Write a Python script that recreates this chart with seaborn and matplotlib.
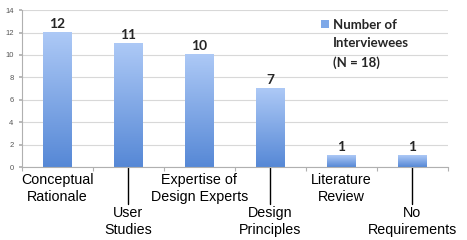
"""
Interview sources bar chart (gradient bars, staggered category labels).
"""

import numpy as np
import pandas as pd
import matplotlib
matplotlib.use("Agg")
import matplotlib.pyplot as plt
import seaborn as sns
from matplotlib.colors import LinearSegmentedColormap
from matplotlib.patches import Rectangle
from matplotlib.legend_handler import HandlerPatch

categories = ["Conceptual\nRationale", "User\nStudies", "Expertise of\nDesign Experts",
              "Design\nPrinciples", "Literature\nReview", "No\nRequirements"]
counts = [12, 11, 10, 7, 1, 1]
series_name = "Number of\nInterviewees\n(N = 18)"
y_ticks = [0, 2, 4, 6, 8, 10, 12, 14]

TOP_COLOR = "#adc9f6"
BOTTOM_COLOR = "#5688d6"


class TopSquareHandler(HandlerPatch):
    # put the legend square next to the first text line
    def create_artists(self, legend, orig_handle, xdescent, ydescent,
                       width, height, fontsize, trans):
        s = 0.6 * fontsize
        r = Rectangle((-xdescent, -ydescent + height - s * 0.45), s, s,
                      facecolor="#7ea8e8", edgecolor="none", transform=trans)
        return [r]


def main():
    sns.set_theme(style="white")
    plt.rcParams["font.family"] = ["Liberation Sans", "DejaVu Sans"]

    df = pd.DataFrame({"category": categories, "count": counts})

    fig = plt.figure(figsize=(4.67, 2.40), dpi=100)
    ax = fig.add_axes([0.047, 0.304, 0.912, 0.654])

    sns.barplot(data=df, x="category", y="count", width=0.4, ax=ax,
                color=BOTTOM_COLOR, zorder=2)

    ax.set_xlim(-0.5, 5.5)
    ax.set_ylim(0, 14)

    # gradient fill inside every bar
    cmap = LinearSegmentedColormap.from_list("bar", [BOTTOM_COLOR, TOP_COLOR])
    grad = np.linspace(0, 1, 256).reshape(-1, 1)
    for p in ax.patches:
        x0, y0 = p.get_x(), p.get_y()
        w, h = p.get_width(), p.get_height()
        p.set_facecolor("none")
        p.set_edgecolor("none")
        ax.imshow(grad, cmap=cmap, origin="lower", aspect="auto",
                  extent=[x0, x0 + w, y0, y0 + h], zorder=2)
    ax.set_xlim(-0.5, 5.5)
    ax.set_ylim(0, 14)

    ax.bar_label(ax.containers[0], labels=[str(v) for v in counts],
                 fontweight="bold", fontsize=10, padding=2, family="Lato")

    # grid / spines
    ax.set_yticks(y_ticks)
    ax.yaxis.grid(True, color="#d8d8d8", linewidth=0.8, zorder=0)
    ax.set_axisbelow(True)
    for side in ["top", "right"]:
        ax.spines[side].set_visible(False)
    ax.spines["left"].set_color("#b0b0b0")
    ax.spines["bottom"].set_color("#b0b0b0")
    ax.spines["left"].set_linewidth(0.8)
    ax.spines["bottom"].set_linewidth(0.8)
    ax.tick_params(axis="y", labelsize=5.5, labelcolor="#555555", length=2,
                   color="#b0b0b0", left=True, pad=4)

    # staggered category labels
    labels = [c if i % 2 == 0 else "\n\n" + c for i, c in enumerate(categories)]
    ax.set_xticks(range(len(categories)))
    ax.set_xticklabels(labels, fontsize=10.3, linespacing=1.22, color="black")
    ax.tick_params(axis="x", length=0, pad=4.5)
    ax.set_xticks(np.arange(-0.5, len(categories), 1.0), minor=True)
    ax.tick_params(axis="x", which="minor", length=3, color="#b0b0b0",
                   bottom=True, width=0.8)
    ax.set_xlabel("")
    ax.set_ylabel("")

    trans = ax.get_xaxis_transform()
    for i in range(1, len(categories), 2):
        ax.plot([i, i], [0, -0.235], color="black", linewidth=1.0,
                transform=trans, clip_on=False)

    # legend
    handle = Rectangle((0, 0), 1, 1)
    leg = ax.legend([handle], [series_name], loc="upper left",
                    bbox_to_anchor=(0.675, 1.02), frameon=False,
                    prop={"family": "Lato", "weight": "bold", "size": 9.5},
                    handler_map={Rectangle: TopSquareHandler()},
                    handlelength=0.6, handleheight=4.6, handletextpad=0.3)
    for t in leg.get_texts():
        t.set_linespacing(1.65)

    fig.savefig("out.png", dpi=100)


if __name__ == "__main__":
    main()
